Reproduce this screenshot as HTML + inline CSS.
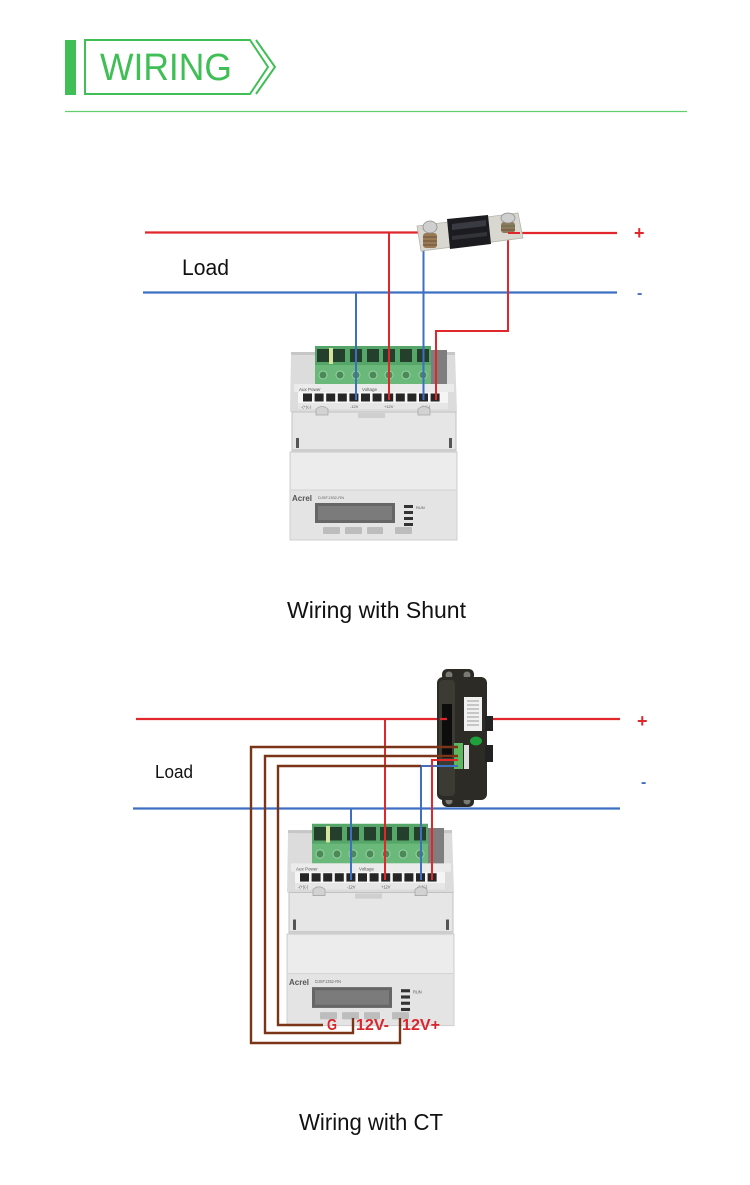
<!DOCTYPE html>
<html><head><meta charset="utf-8"><style>
html,body{margin:0;padding:0;background:#fff;}
svg{display:block;}
</style></head><body>
<svg width="750" height="1185" viewBox="0 0 750 1185" xmlns="http://www.w3.org/2000/svg" font-family="Liberation Sans, sans-serif">
<rect width="750" height="1185" fill="#fff"/>

<!-- HEADER -->
<rect x="65" y="40" width="11" height="55" fill="#3fbf55"/>
<polygon points="85,40 250,40 268,67 250,94 85,94" fill="none" stroke="#3fbf55" stroke-width="2"/>
<polyline points="256,40 275,67 256,94" fill="none" stroke="#3fbf55" stroke-width="2"/>
<text x="100" y="80" font-size="38" fill="#3fbf55" textLength="132" lengthAdjust="spacingAndGlyphs">WIRING</text>
<line x1="65" y1="111.5" x2="687" y2="111.5" stroke="#5fcf70" stroke-width="1.2"/>

<!-- ========== TOP DIAGRAM ========== -->
<!-- main lines -->
<line x1="145" y1="232.5" x2="426" y2="232.5" stroke="#e0282c" stroke-width="2.2"/>
<line x1="510" y1="233" x2="617" y2="233" stroke="#e0282c" stroke-width="2.2"/>
<line x1="143" y1="292.5" x2="617" y2="292.5" stroke="#3f6fc2" stroke-width="2.2"/>
<text x="634" y="239" font-size="18" font-weight="bold" fill="#e0282c">+</text>
<text x="637" y="298" font-size="16" font-weight="bold" fill="#3f6fc2">-</text>
<text x="182" y="275" font-size="22" fill="#111" textLength="47" lengthAdjust="spacingAndGlyphs">Load</text>

<!-- METER 1 -->
<g id="meter1">
  <polygon points="291,355 455,352 457,412 290,412" fill="#dcdcdc"/>
  <rect x="291" y="352" width="164" height="3" fill="#c6c6c6"/>
  <rect x="430" y="350" width="17" height="36" fill="#7e7e7e"/>
  <rect x="315" y="346" width="116" height="38" fill="#6ab87a"/>
  <rect x="315" y="346" width="116" height="19" fill="#57a669"/>
  <rect x="317" y="349" width="12" height="13" fill="#24402c"/>
  <rect x="333" y="349" width="12" height="13" fill="#24402c"/>
  <rect x="350" y="349" width="12" height="13" fill="#24402c"/>
  <rect x="367" y="349" width="12" height="13" fill="#24402c"/>
  <rect x="383" y="349" width="12" height="13" fill="#24402c"/>
  <rect x="400" y="349" width="12" height="13" fill="#24402c"/>
  <rect x="417" y="349" width="12" height="13" fill="#24402c"/>
  <rect x="329" y="348" width="4" height="16" fill="#d6e39e"/>
  <g fill="#4b8a58" stroke="#9ad3a6" stroke-width="1">
    <circle cx="323" cy="375" r="4"/><circle cx="340" cy="375" r="4"/><circle cx="356" cy="375" r="4"/>
    <circle cx="373" cy="375" r="4"/><circle cx="389" cy="375" r="4"/><circle cx="406" cy="375" r="4"/>
    <circle cx="423" cy="375" r="4"/>
  </g>
  <rect x="294" y="384" width="160" height="8" fill="#ebebeb"/>
  <text x="299" y="391" font-size="4.5" fill="#555">Aux Power</text>
  <text x="362" y="391" font-size="4.5" fill="#555">Voltage</text>
  <rect x="298" y="392" width="150" height="11" fill="#f5f5f5"/>
  <g fill="#262626">
    <rect x="303" y="393.5" width="9" height="8"/><rect x="314.6" y="393.5" width="9" height="8"/>
    <rect x="326.2" y="393.5" width="9" height="8"/><rect x="337.8" y="393.5" width="9" height="8"/>
    <rect x="349.4" y="393.5" width="9" height="8"/><rect x="361" y="393.5" width="9" height="8"/>
    <rect x="372.6" y="393.5" width="9" height="8"/><rect x="384.2" y="393.5" width="9" height="8"/>
    <rect x="395.8" y="393.5" width="9" height="8"/><rect x="407.4" y="393.5" width="9" height="8"/>
    <rect x="419" y="393.5" width="9" height="8"/><rect x="430.6" y="393.5" width="9" height="8"/>
  </g>
  <rect x="298" y="403" width="150" height="6" fill="#e6e6e6"/>
  <text x="301" y="408" font-size="4" fill="#555">-(+)(-)</text>
  <text x="350" y="408" font-size="4" fill="#555">-12V</text>
  <text x="384" y="408" font-size="4" fill="#555">+12V</text>
  <text x="420" y="408" font-size="4" fill="#555">-(+)(-)</text>
  <rect x="292" y="412" width="164" height="40" fill="#e6e6e6" stroke="#c2c2c2" stroke-width="1"/>
  <rect x="358" y="413" width="27" height="5" fill="#cfcfcf"/>
  <path d="M316,409 q6,-5 12,0 v6 h-12 z" fill="#d2d2d2" stroke="#a8a8a8" stroke-width="0.8"/>
  <path d="M418,409 q6,-5 12,0 v6 h-12 z" fill="#d2d2d2" stroke="#a8a8a8" stroke-width="0.8"/>
  <rect x="296" y="438" width="3" height="10" fill="#555"/>
  <rect x="449" y="438" width="3" height="10" fill="#555"/>
  <rect x="292" y="449" width="164" height="3" fill="#cdcdcd"/>
  <rect x="290" y="452" width="167" height="88" fill="#e4e4e4" stroke="#cfcfcf" stroke-width="1"/>
  <rect x="291" y="453" width="165" height="37" fill="#ececec"/>
  <line x1="291" y1="490" x2="456" y2="490" stroke="#d2d2d2" stroke-width="1"/>
  <text x="292" y="501" font-size="8" font-weight="bold" fill="#555">Acrel</text>
  <text x="318" y="499" font-size="4" fill="#666">DJSF1352-RN</text>
  <rect x="315" y="503" width="80" height="20" fill="#666"/>
  <rect x="318" y="506" width="74" height="14" fill="#7b7b7b"/>
  <g fill="#333">
    <rect x="404" y="505" width="9" height="3"/><rect x="404" y="511" width="9" height="3"/>
    <rect x="404" y="517" width="9" height="3"/><rect x="404" y="523" width="9" height="3"/>
  </g>
  <text x="416" y="509" font-size="4" fill="#555">RUN</text>
  <g fill="#bdbdbd">
    <rect x="323" y="527" width="17" height="7" rx="1"/><rect x="345" y="527" width="17" height="7" rx="1"/>
    <rect x="367" y="527" width="16" height="7" rx="1"/><rect x="395" y="527" width="17" height="7" rx="1"/>
  </g>
</g>

<!-- top wires to meter -->
<line x1="356" y1="292.5" x2="356" y2="400" stroke="#3f6fc2" stroke-width="2"/>
<line x1="389" y1="232.5" x2="389" y2="400" stroke="#e0282c" stroke-width="2"/>
<line x1="423.5" y1="236" x2="423.5" y2="400" stroke="#3f6fc2" stroke-width="2"/>
<polyline points="508,233 508,331 436,331 436,400" fill="none" stroke="#e0282c" stroke-width="2"/>

<!-- SHUNT -->
<g>
  <polygon points="417,226 518,213 523,238 421,251" fill="#d9d8d0" stroke="#b5b4ac" stroke-width="0.8"/>
  <polygon points="447,219 488,215 491,244 450,249" fill="#1c1c20"/>
  <polygon points="452,224 486,220 486,226 452,230" fill="#3a3a42"/>
  <polygon points="452,236 487,232 487,236 452,240" fill="#33333a"/>
  <rect x="423" y="233" width="14" height="15" rx="3" fill="#9a7a55"/>
  <line x1="423" y1="237" x2="437" y2="237" stroke="#6b5036" stroke-width="1"/>
  <line x1="423" y1="241" x2="437" y2="241" stroke="#6b5036" stroke-width="1"/>
  <line x1="423" y1="245" x2="437" y2="245" stroke="#6b5036" stroke-width="1"/>
  <ellipse cx="430" cy="227" rx="7" ry="6" fill="#cfcfcf" stroke="#8d8d8d" stroke-width="0.8"/>
  <rect x="501" y="222" width="14" height="11" rx="3" fill="#8e7a5a"/>
  <line x1="501" y1="226" x2="515" y2="226" stroke="#5d6e4d" stroke-width="1"/>
  <line x1="501" y1="230" x2="515" y2="230" stroke="#6b5036" stroke-width="1"/>
  <ellipse cx="508" cy="218" rx="7" ry="5" fill="#cfcfcf" stroke="#8d8d8d" stroke-width="0.8"/>
</g>
<line x1="508" y1="233" x2="520" y2="233" stroke="#e0282c" stroke-width="2"/>

<text x="287" y="618" font-size="23" fill="#111" textLength="179" lengthAdjust="spacingAndGlyphs">Wiring with Shunt</text>

<!-- ========== BOTTOM DIAGRAM ========== -->
<line x1="136" y1="719" x2="447" y2="719" stroke="#e0282c" stroke-width="2.2"/>
<line x1="490" y1="719" x2="620" y2="719" stroke="#e0282c" stroke-width="2.2"/>
<line x1="133" y1="808.5" x2="620" y2="808.5" stroke="#3f6fc2" stroke-width="2.2"/>
<text x="637" y="727" font-size="18" font-weight="bold" fill="#e0282c">+</text>
<text x="641" y="787" font-size="16" font-weight="bold" fill="#3f6fc2">-</text>
<text x="155" y="778" font-size="18" fill="#111" textLength="38" lengthAdjust="spacingAndGlyphs">Load</text>

<!-- METER 2 -->
<g transform="matrix(1,0,0,1.04,-3,464)">
  <polygon points="291,355 455,352 457,412 290,412" fill="#dcdcdc"/>
  <rect x="291" y="352" width="164" height="3" fill="#c6c6c6"/>
  <rect x="430" y="350" width="17" height="36" fill="#7e7e7e"/>
  <rect x="315" y="346" width="116" height="38" fill="#6ab87a"/>
  <rect x="315" y="346" width="116" height="19" fill="#57a669"/>
  <rect x="317" y="349" width="12" height="13" fill="#24402c"/>
  <rect x="333" y="349" width="12" height="13" fill="#24402c"/>
  <rect x="350" y="349" width="12" height="13" fill="#24402c"/>
  <rect x="367" y="349" width="12" height="13" fill="#24402c"/>
  <rect x="383" y="349" width="12" height="13" fill="#24402c"/>
  <rect x="400" y="349" width="12" height="13" fill="#24402c"/>
  <rect x="417" y="349" width="12" height="13" fill="#24402c"/>
  <rect x="329" y="348" width="4" height="16" fill="#d6e39e"/>
  <g fill="#4b8a58" stroke="#9ad3a6" stroke-width="1">
    <circle cx="323" cy="375" r="4"/><circle cx="340" cy="375" r="4"/><circle cx="356" cy="375" r="4"/>
    <circle cx="373" cy="375" r="4"/><circle cx="389" cy="375" r="4"/><circle cx="406" cy="375" r="4"/>
    <circle cx="423" cy="375" r="4"/>
  </g>
  <rect x="294" y="384" width="160" height="8" fill="#ebebeb"/>
  <text x="299" y="391" font-size="4.5" fill="#555">Aux Power</text>
  <text x="362" y="391" font-size="4.5" fill="#555">Voltage</text>
  <rect x="298" y="392" width="150" height="11" fill="#f5f5f5"/>
  <g fill="#262626">
    <rect x="303" y="393.5" width="9" height="8"/><rect x="314.6" y="393.5" width="9" height="8"/>
    <rect x="326.2" y="393.5" width="9" height="8"/><rect x="337.8" y="393.5" width="9" height="8"/>
    <rect x="349.4" y="393.5" width="9" height="8"/><rect x="361" y="393.5" width="9" height="8"/>
    <rect x="372.6" y="393.5" width="9" height="8"/><rect x="384.2" y="393.5" width="9" height="8"/>
    <rect x="395.8" y="393.5" width="9" height="8"/><rect x="407.4" y="393.5" width="9" height="8"/>
    <rect x="419" y="393.5" width="9" height="8"/><rect x="430.6" y="393.5" width="9" height="8"/>
  </g>
  <rect x="298" y="403" width="150" height="6" fill="#e6e6e6"/>
  <text x="301" y="408" font-size="4" fill="#555">-(+)(-)</text>
  <text x="350" y="408" font-size="4" fill="#555">-12V</text>
  <text x="384" y="408" font-size="4" fill="#555">+12V</text>
  <text x="420" y="408" font-size="4" fill="#555">-(+)(-)</text>
  <rect x="292" y="412" width="164" height="40" fill="#e6e6e6" stroke="#c2c2c2" stroke-width="1"/>
  <rect x="358" y="413" width="27" height="5" fill="#cfcfcf"/>
  <path d="M316,409 q6,-5 12,0 v6 h-12 z" fill="#d2d2d2" stroke="#a8a8a8" stroke-width="0.8"/>
  <path d="M418,409 q6,-5 12,0 v6 h-12 z" fill="#d2d2d2" stroke="#a8a8a8" stroke-width="0.8"/>
  <rect x="296" y="438" width="3" height="10" fill="#555"/>
  <rect x="449" y="438" width="3" height="10" fill="#555"/>
  <rect x="292" y="449" width="164" height="3" fill="#cdcdcd"/>
  <rect x="290" y="452" width="167" height="88" fill="#e4e4e4" stroke="#cfcfcf" stroke-width="1"/>
  <rect x="291" y="453" width="165" height="37" fill="#ececec"/>
  <line x1="291" y1="490" x2="456" y2="490" stroke="#d2d2d2" stroke-width="1"/>
  <text x="292" y="501" font-size="8" font-weight="bold" fill="#555">Acrel</text>
  <text x="318" y="499" font-size="4" fill="#666">DJSF1352-RN</text>
  <rect x="315" y="503" width="80" height="20" fill="#666"/>
  <rect x="318" y="506" width="74" height="14" fill="#7b7b7b"/>
  <g fill="#333">
    <rect x="404" y="505" width="9" height="3"/><rect x="404" y="511" width="9" height="3"/>
    <rect x="404" y="517" width="9" height="3"/><rect x="404" y="523" width="9" height="3"/>
  </g>
  <text x="416" y="509" font-size="4" fill="#555">RUN</text>
  <g fill="#bdbdbd">
    <rect x="323" y="527" width="17" height="7" rx="1"/><rect x="345" y="527" width="17" height="7" rx="1"/>
    <rect x="367" y="527" width="16" height="7" rx="1"/><rect x="395" y="527" width="17" height="7" rx="1"/>
  </g>
</g>

<!-- CT -->
<g>
  <rect x="442" y="669" width="32" height="12" rx="5" fill="#2b2a25"/>
  <circle cx="449" cy="675" r="3.5" fill="#7a7a74"/>
  <circle cx="467" cy="675" r="3.5" fill="#7a7a74"/>
  <rect x="442" y="795" width="32" height="12" rx="5" fill="#2b2a25"/>
  <circle cx="449" cy="801" r="3.5" fill="#7a7a74"/>
  <circle cx="467" cy="801" r="3.5" fill="#7a7a74"/>
  <rect x="437" y="677" width="50" height="123" rx="6" fill="#2c2b26"/>
  <rect x="439" y="680" width="16" height="116" rx="4" fill="#3b3a33"/>
  <rect x="442" y="704" width="10" height="54" fill="#0d0d0d"/>
  <rect x="464" y="697" width="18" height="34" fill="#f1f1f1"/>
  <g stroke="#888" stroke-width="0.8">
    <line x1="467" y1="701" x2="479" y2="701"/><line x1="467" y1="705" x2="479" y2="705"/>
    <line x1="467" y1="709" x2="479" y2="709"/><line x1="467" y1="713" x2="479" y2="713"/>
    <line x1="467" y1="717" x2="479" y2="717"/><line x1="467" y1="721" x2="479" y2="721"/>
    <line x1="467" y1="725" x2="479" y2="725"/>
  </g>
  <ellipse cx="476" cy="741" rx="6" ry="4.5" fill="#1fa03a"/>
  <rect x="454" y="743" width="9" height="26" fill="#5cb85c"/>
  <rect x="464" y="745" width="5" height="24" fill="#ddd"/>
  <rect x="485" y="716" width="8" height="15" fill="#222"/>
  <rect x="485" y="745" width="8" height="17" fill="#222"/>
</g>

<!-- CT wires -->
<line x1="440" y1="719" x2="447" y2="719" stroke="#e0282c" stroke-width="2.2"/>
<line x1="385" y1="719" x2="385" y2="880" stroke="#e0282c" stroke-width="2"/>
<line x1="351" y1="808.5" x2="351" y2="880" stroke="#3f6fc2" stroke-width="2"/>
<polyline points="458,766 421,766 421,880" fill="none" stroke="#3f6fc2" stroke-width="2"/>
<polyline points="458,760 432,760 432,880" fill="none" stroke="#e0282c" stroke-width="2"/>
<g fill="none" stroke="#7a3418" stroke-width="2.4">
  <polyline points="458,747 251,747 251,1043 400,1043 400,1018"/>
  <polyline points="458,756 265,756 265,1033 353,1033 353,1018"/>
  <polyline points="421,766 278,766 278,1025 323,1025"/>
</g>
<g font-weight="bold" fill="#d9262c" font-size="16">
  <text x="327" y="1030" textLength="10" lengthAdjust="spacingAndGlyphs">G</text>
  <text x="356" y="1030" textLength="33" lengthAdjust="spacingAndGlyphs">12V-</text>
  <text x="402" y="1030" textLength="38" lengthAdjust="spacingAndGlyphs">12V+</text>
</g>

<text x="299" y="1130" font-size="23" fill="#111" textLength="144" lengthAdjust="spacingAndGlyphs">Wiring with CT</text>
</svg>
</body></html>
